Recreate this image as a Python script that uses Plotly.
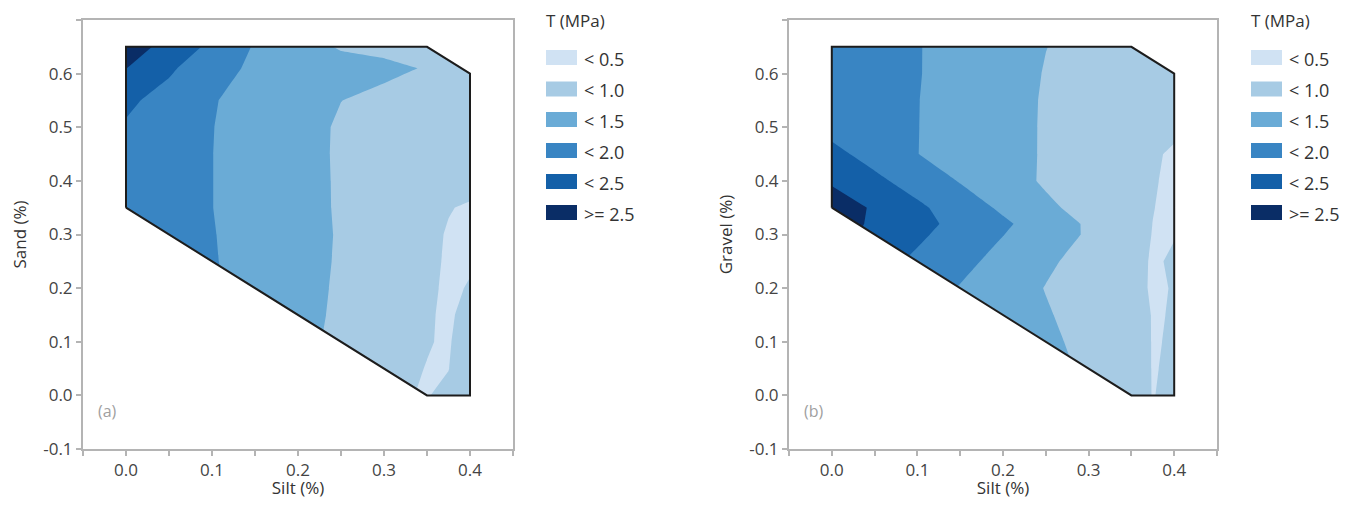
import plotly.graph_objects as go

# ---------------- data ----------------
band_labels = ["< 0.5", "< 1.0", "< 1.5", "< 2.0", "< 2.5", ">= 2.5"]
band_colors = ["#d0e2f3", "#a7cbe4", "#6aabd6", "#3985c3", "#1460a8", "#0a2d66"]
levels_start, levels_end, levels_step = 0.5, 2.5, 0.5

# design-region boundary (Silt, Sand/Gravel)
bound_x = [0.0, 0.0, 0.35, 0.40, 0.40, 0.35, 0.0]
bound_y = [0.35, 0.65, 0.65, 0.60, 0.0, 0.0, 0.35]

# panel (a): T (MPa) vs Silt / Sand
silt_a = [0.0, 0.05, 0.10, 0.15, 0.20, 0.25, 0.30, 0.35, 0.375, 0.40]
sand_a = [0.0, 0.05, 0.10, 0.15, 0.20, 0.25, 0.30, 0.35, 0.40, 0.45, 0.50, 0.55, 0.61, 0.65]
T_a = [
    [2.00, 1.80, 1.60, 1.40, 1.10, 0.80, 0.55, 0.48, 0.60, 0.85],
    [2.00, 1.80, 1.60, 1.40, 1.05, 0.85, 0.62, 0.49, 0.49, 0.80],
    [1.98, 1.78, 1.58, 1.38, 1.12, 0.90, 0.70, 0.52, 0.46, 0.75],
    [1.95, 1.75, 1.55, 1.35, 1.15, 0.92, 0.72, 0.54, 0.44, 0.64],
    [1.95, 1.75, 1.55, 1.36, 1.18, 0.93, 0.75, 0.56, 0.45, 0.52],
    [1.90, 1.70, 1.53, 1.34, 1.18, 0.95, 0.78, 0.58, 0.46, 0.47],
    [1.90, 1.70, 1.52, 1.33, 1.18, 0.96, 0.80, 0.60, 0.47, 0.42],
    [1.90, 1.70, 1.505, 1.33, 1.17, 0.95, 0.82, 0.66, 0.52, 0.45],
    [1.92, 1.72, 1.505, 1.33, 1.16, 0.95, 0.86, 0.76, 0.70, 0.66],
    [1.93, 1.73, 1.505, 1.33, 1.16, 0.944, 0.88, 0.82, 0.79, 0.77],
    [1.95, 1.75, 1.51, 1.33, 1.17, 0.946, 0.90, 0.86, 0.84, 0.82],
    [2.097, 1.81, 1.528, 1.346, 1.175, 1.004, 0.90, 0.88, 0.87, 0.86],
    [2.51, 2.083, 1.654, 1.428, 1.315, 1.202, 1.088, 0.975, 0.95, 0.93],
    [2.76, 2.33, 1.89, 1.46, 1.21, 0.95, 0.90, 0.85, 0.82, 0.80],
]

# panel (b): T (MPa) vs Silt / Gravel
silt_b = [0.0, 0.05, 0.10, 0.15, 0.20, 0.25, 0.30, 0.35, 0.375, 0.40]
gravel_b = [0.0, 0.05, 0.10, 0.15, 0.20, 0.25, 0.30, 0.32, 0.35, 0.40, 0.45, 0.50, 0.55, 0.60, 0.65]
T_b = [
    [2.20, 2.00, 1.80, 1.60, 1.40, 1.20, 0.95, 0.65, 0.49, 0.573],
    [2.15, 1.95, 1.75, 1.55, 1.35, 1.15, 0.921, 0.632, 0.49, 0.526],
    [2.10, 1.90, 1.70, 1.50, 1.30, 1.10, 0.866, 0.619, 0.49, 0.513],
    [2.15, 1.92, 1.70, 1.45, 1.23, 1.04, 0.823, 0.605, 0.49, 0.507],
    [2.20, 1.95, 1.72, 1.475, 1.228, 0.985, 0.789, 0.594, 0.47, 0.511],
    [2.472, 2.19, 1.91, 1.629, 1.352, 1.077, 0.836, 0.609, 0.47, 0.53],
    [2.687, 2.386, 2.085, 1.795, 1.511, 1.232, 0.948, 0.645, 0.49, 0.49],
    [2.714, 2.431, 2.147, 1.863, 1.579, 1.261, 0.939, 0.644, 0.497, 0.44],
    [2.78, 2.437, 2.093, 1.755, 1.421, 1.09, 0.84, 0.619, 0.509, 0.42],
    [2.434, 2.112, 1.79, 1.473, 1.207, 0.942, 0.80, 0.65, 0.54, 0.397],
    [2.133, 1.819, 1.506, 1.324, 1.144, 0.964, 0.82, 0.68, 0.56, 0.435],
    [1.85, 1.77, 1.508, 1.33, 1.15, 0.963, 0.83, 0.72, 0.66, 0.60],
    [1.90, 1.75, 1.51, 1.33, 1.15, 0.967, 0.86, 0.78, 0.75, 0.72],
    [1.90, 1.75, 1.52, 1.337, 1.16, 0.982, 0.88, 0.82, 0.80, 0.78],
    [1.90, 1.75, 1.52, 1.345, 1.172, 1.005, 0.90, 0.85, 0.83, 0.80],
]

x_ticks = [0.0, 0.1, 0.2, 0.3, 0.4]
y_ticks = [-0.1, 0.0, 0.1, 0.2, 0.3, 0.4, 0.5, 0.6, 0.7]
panel_tags = ["(a)", "(b)"]
y_titles = ["Sand (%)", "Gravel (%)"]
x_title = "Silt (%)"
legend_title = "T (MPa)"

# ---------------- figure ----------------
FONT = "Open Sans, Noto Sans, DejaVu Sans, sans-serif"
n = len(band_colors)
colorscale = [[i / (n - 1), c] for i, c in enumerate(band_colors)]

fig = go.Figure()

E = 0.004
mask_low_x = [bound_x[0], bound_x[5], bound_x[5], -E, -E, bound_x[0]]
mask_low_y = [bound_y[0], bound_y[5], -E, -E, bound_y[0], bound_y[0]]
mask_up_x = [bound_x[2], bound_x[3], bound_x[3] + E, bound_x[3] + E, bound_x[2], bound_x[2]]
mask_up_y = [bound_y[2], bound_y[3], bound_y[3], bound_y[2] + E, bound_y[2] + E, bound_y[2]]

panels = [(silt_a, sand_a, T_a, "x", "y"), (silt_b, gravel_b, T_b, "x2", "y2")]
for xs, ys, zs, xa, ya in panels:
    fig.add_trace(go.Contour(
        x=xs, y=ys, z=zs, xaxis=xa, yaxis=ya,
        autocontour=False,
        contours=dict(start=levels_start, end=levels_end, size=levels_step,
                      coloring="fill", showlines=False),
        line=dict(width=0, smoothing=0), colorscale=colorscale, showscale=False,
        hoverinfo="skip",
    ))
    for mx, my in [(mask_low_x, mask_low_y), (mask_up_x, mask_up_y)]:
        fig.add_trace(go.Scatter(x=mx, y=my, xaxis=xa, yaxis=ya, mode="lines",
                                 fill="toself", fillcolor="white",
                                 line=dict(color="white", width=1),
                                 hoverinfo="skip", showlegend=False))
    fig.add_trace(go.Scatter(x=bound_x, y=bound_y, xaxis=xa, yaxis=ya, mode="lines",
                             line=dict(color="#1c1c1c", width=2),
                             hoverinfo="skip", showlegend=False))

# page body has an 8px margin: work in page pixels and convert
OFF = 8
W, H = 1357 - 2 * OFF, 507 - 2 * OFF


def px(v):
    return (v - OFF) / W


def py(v):
    return 1 - (v - OFF) / H


x_domains = [[px(83), px(513)], [px(789), px(1217)]]
y_domain = [py(449), py(20)]

axis_common = dict(showline=True, linecolor="#b4b4b4", linewidth=2, mirror=True,
                   ticks="outside", ticklen=5, tickwidth=1.5, tickcolor="#b4b4b4",
                   showgrid=False, zeroline=False,
                   tickfont=dict(family=FONT, size=17, color="#444444"),
                   automargin=False)

layout = dict(width=W, height=H, margin=dict(l=0, r=0, t=0, b=0),
              paper_bgcolor="white", plot_bgcolor="white", showlegend=False,
              font=dict(family=FONT, color="#333333"))
for i, (xd, yt) in enumerate(zip(x_domains, y_titles)):
    sx = "" if i == 0 else "2"
    layout["xaxis" + sx] = dict(axis_common, domain=xd, range=[-0.05, 0.45],
                                tickvals=x_ticks, ticktext=[f"{v:.1f}" for v in x_ticks],
                                minor=dict(dtick=0.05, tick0=-0.05, ticks="outside",
                                           ticklen=5, tickcolor="#b4b4b4", tickwidth=1.5),
                                title=dict(text=x_title, standoff=13,
                                           font=dict(family=FONT, size=17, color="#333333")),
                                anchor="y" + sx)
    layout["yaxis" + sx] = dict(axis_common, domain=y_domain, range=[-0.1, 0.7],
                                tickvals=y_ticks, ticktext=[f"{v:.1f}" for v in y_ticks],
                                title=dict(text=yt, standoff=12,
                                           font=dict(family=FONT, size=17, color="#333333")),
                                anchor="x" + sx)
fig.update_layout(**layout)

# panel tags
for i, tag in enumerate(panel_tags):
    sx = "" if i == 0 else "2"
    fig.add_annotation(x=-0.035, y=-0.03, xref="x" + sx, yref="y" + sx, text=tag,
                       showarrow=False, xanchor="left", yanchor="middle",
                       font=dict(family=FONT, size=16, color="#a0a0a0"))

# legends (one per panel), page-pixel positions
legend_left = [546, 1251]
title_y = 21
row_y = [57.5, 89, 119.5, 150.5, 181.5, 212.5]
for lx in legend_left:
    fig.add_annotation(x=px(lx - 2), y=py(title_y), xref="paper", yref="paper",
                       text=legend_title, showarrow=False, xanchor="left", yanchor="middle",
                       font=dict(family=FONT, size=17, color="#333333"))
    for lab, col, ry in zip(band_labels, band_colors, row_y):
        fig.add_shape(type="rect", xref="paper", yref="paper",
                      x0=px(lx), x1=px(lx + 31),
                      y0=py(ry + 7.5), y1=py(ry - 7.5),
                      fillcolor=col, line=dict(width=0))
        fig.add_annotation(x=px(lx + 36), y=py(ry + 1), xref="paper", yref="paper",
                           text=lab, showarrow=False, xanchor="left", yanchor="middle",
                           font=dict(family=FONT, size=18, color="#333333"))

fig.write_html("out.html")
